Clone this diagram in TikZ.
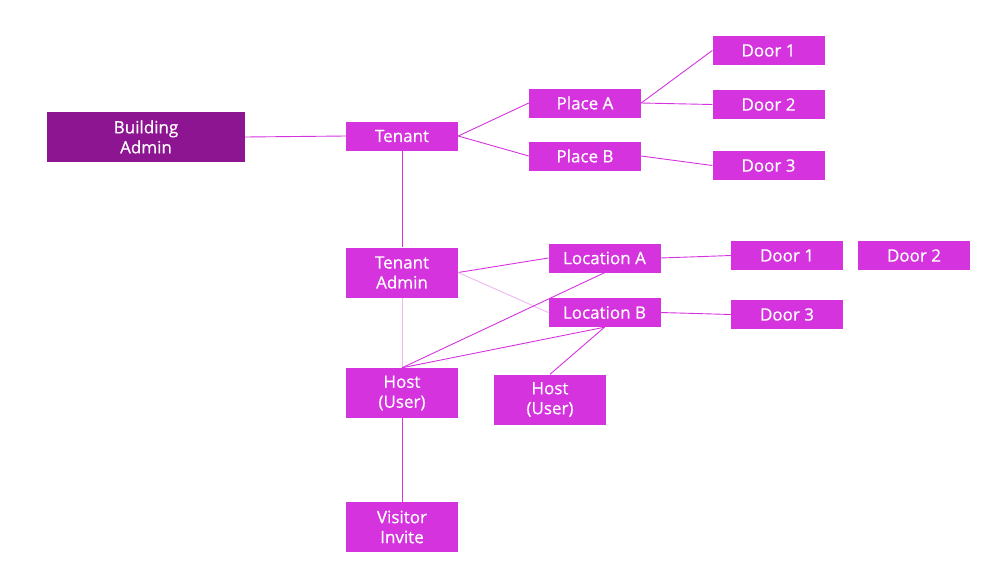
\documentclass[tikz,border=0pt]{standalone}
\usepackage{fontspec}
\setmainfont{Open Sans}
\newfontfamily\boxfont[FakeBold=0.6]{Open Sans}
\usepackage{tikz}

\definecolor{boxmag}{HTML}{D433DD}
\definecolor{boxdark}{HTML}{8E1592}
\definecolor{linefaint}{HTML}{EEB8F0}

\begin{document}
\begin{tikzpicture}[x=1pt, y=-1pt, line join=round,
    box/.style={rectangle, fill=boxmag, text=white, inner sep=0pt,
      minimum width=112pt, minimum height=29pt, align=center,
      font=\boxfont\fontsize{17}{20}\selectfont},
    tallbox/.style={box, minimum height=50pt},
    link/.style={draw=boxmag, line width=0.9pt},
    faint/.style={draw=linefaint, line width=0.9pt}]
  \useasboundingbox (0,0) rectangle (1002,584);
  % building level
  \node[tallbox, fill=boxdark, minimum width=198pt] (badmin) at (146,137) {Building\\Admin};
  \node[box] (tenant) at (402,136) {Tenant};
  % places and their doors
  \node[box] (placeA) at (585,103) {Place A};
  \node[box] (placeB) at (585,156) {Place B};
  \node[box] (pdoorA) at (768.5,50.5) {Door 1};
  \node[box] (pdoorB) at (768.5,104.5) {Door 2};
  \node[box] (pdoorC) at (768.5,165.5) {Door 3};
  % tenant admin and locations
  \node[tallbox] (tadmin) at (402,272.5) {Tenant\\Admin};
  \node[box] (locA) at (604.5,258) {Location A};
  \node[box] (locB) at (604.5,312.5) {Location B};
  \node[box] (ldoorA) at (787,255.5) {Door 1};
  \node[box] (ldoorB) at (914,255.5) {Door 2};
  \node[box] (ldoorC) at (787,314.5) {Door 3};
  % hosts and invites
  \node[tallbox] (hostL) at (402,393) {Host\\(User)};
  \node[tallbox] (hostR) at (550,399.5) {Host\\(User)};
  \node[tallbox] (invite) at (402,527) {Visitor\\Invite};

  % connectors
  \draw[link] (badmin.east) -- (tenant.west);
  \draw[link] (tenant.east) -- (placeA.west);
  \draw[link] (tenant.east) -- (placeB.west);
  \draw[link] (placeA.east) -- (pdoorA.west);
  \draw[link] (placeA.east) -- (pdoorB.west);
  \draw[link] (placeB.east) -- (pdoorC.west);
  \draw[link] (tenant.south) -- (tadmin.north);
  \draw[link] (tadmin.east) -- (locA.west);
  \draw[faint] (tadmin.east) -- (locB.west);
  \draw[link] (locA.east) -- (ldoorA.west);
  \draw[link] (locB.east) -- (ldoorC.west);
  \draw[faint] (tadmin.south) -- (hostL.north);
  \draw[link] (locA.south) -- (hostL.north);
  \draw[link] (locB.south) -- (hostL.north);
  \draw[link] (locB.south) -- (hostR.north);
  \draw[link] (hostL.south) -- (invite.north);
\end{tikzpicture}
\end{document}
